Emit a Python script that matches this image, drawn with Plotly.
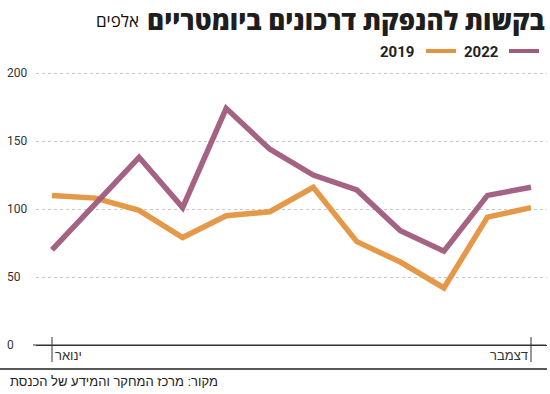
import plotly.graph_objects as go

months = ["ינואר", "פברואר", "מרץ", "אפריל", "מאי", "יוני", "יולי", "אוגוסט", "ספטמבר", "אוקטובר", "נובמבר", "דצמבר"]
series_2019 = [110, 108, 99, 79, 95, 98, 116, 76, 61, 42, 94, 101]
series_2022 = [70, 104, 138, 101, 174, 144, 125, 114, 84, 69, 110, 116]
y_ticks = [0, 50, 100, 150, 200]
edge_labels = ["ינואר", "דצמבר"]

title_bold = "בקשות להנפקת דרכונים ביומטריים"
title_unit = "אלפים"
source = "מקור: מרכז המחקר והמידע של הכנסת"

C2019 = "#e4943f"
C2022 = "#a05b7d"
NUM_FONT = "Roboto, sans-serif"
HEB_FONT = "Liberation Sans, Arial, sans-serif"
TITLE_FONT = "Open Sans, Liberation Sans, sans-serif"

W, H = 550, 394
L, R, T, B = 36, 3, 60, 26
pw = W - L - R
ph = H - T - B

def px_x(p):
    return (p - L) / pw

def px_y(p):
    return 1 - (p - T) / ph

xidx = list(range(len(months)))

fig = go.Figure()
fig.add_trace(go.Scatter(x=xidx, y=series_2019, mode="lines", name="2019",
                         line=dict(color=C2019, width=5.5), opacity=0.95))
fig.add_trace(go.Scatter(x=xidx, y=series_2022, mode="lines", name="2022",
                         line=dict(color=C2022, width=5.5), opacity=0.95))

# y scale: 0 at 345px, 200 at 73px
ppu = (345 - 73) / 200
y_top = 200 + (73 - T) / ppu
y_bot = 0 - (H - B - 345) / ppu
# x scale: Jan at 52px, Dec at 531px
ppx = (531 - 52) / 11
x_lo = -(52 - L) / ppx
x_hi = x_lo + pw / ppx

fig.update_layout(
    width=W, height=H,
    margin=dict(l=L, r=R, t=T, b=B),
    paper_bgcolor="white", plot_bgcolor="white",
    showlegend=False,
    xaxis=dict(range=[x_lo, x_hi], showgrid=False, zeroline=False,
               showticklabels=False, ticks="", showline=False),
    yaxis=dict(range=[y_bot, y_top], tickvals=y_ticks, showticklabels=False,
               showgrid=True, gridcolor="#c8c8c8", griddash="dot", gridwidth=1,
               zeroline=True, zerolinecolor="#333333", zerolinewidth=1,
               showline=False, ticks=""),
)

annotations = []
for v in y_ticks:
    annotations.append(dict(x=px_x(5), xref="paper", y=v, yref="y", text=str(v),
                            showarrow=False, xanchor="left", yanchor="middle",
                            font=dict(family=NUM_FONT, size=12, color="#333333")))

# edge month labels
annotations.append(dict(x=0, xref="x", y=-7.5, yref="y", text=edge_labels[0],
                        showarrow=False, xanchor="left", yanchor="middle", xshift=1,
                        font=dict(family=HEB_FONT, size=13, color="#333333")))
annotations.append(dict(x=11, xref="x", y=-7.5, yref="y", text=edge_labels[1],
                        showarrow=False, xanchor="right", yanchor="middle", xshift=-1,
                        font=dict(family=HEB_FONT, size=13, color="#333333")))

# title (bold part + unit)
annotations.append(dict(x=px_x(547), xref="paper", y=px_y(20), yref="paper",
                        text=title_bold, showarrow=False, xanchor="right", yanchor="middle",
                        font=dict(family=TITLE_FONT, size=26, color="#1e1e1e", weight=800)))
annotations.append(dict(x=px_x(141), xref="paper", y=px_y(21), yref="paper",
                        text=title_unit, showarrow=False, xanchor="right", yanchor="middle",
                        font=dict(family=TITLE_FONT, size=17, color="#111111")))

# legend
for label, color, tx in [("2019", C2019, 416), ("2022", C2022, 501)]:
    annotations.append(dict(x=px_x(tx), xref="paper", y=px_y(52), yref="paper",
                            text="<b>" + label + "</b>", showarrow=False,
                            xanchor="right", yanchor="middle",
                            font=dict(family=NUM_FONT, size=15, color="#222222")))

# source
annotations.append(dict(x=px_x(8), xref="paper", y=px_y(381), yref="paper",
                        text=source, showarrow=False, xanchor="left", yanchor="middle",
                        font=dict(family=HEB_FONT, size=13, color="#222222")))

shapes = []
for color, lx0, lx1 in [(C2019, 426, 456), (C2022, 509, 539)]:
    shapes.append(dict(type="line", xref="paper", yref="paper",
                       x0=px_x(lx0), x1=px_x(lx1), y0=px_y(51), y1=px_y(51),
                       line=dict(color=color, width=4)))
# edge ticks
for xv in [0, 11]:
    shapes.append(dict(type="line", xref="x", yref="y", x0=xv, x1=xv,
                       y0=-(362 - 345) / ppu, y1=(345 - 337) / ppu,
                       line=dict(color="#333333", width=1)))
# baseline extension to left
shapes.append(dict(type="line", xref="paper", yref="y", x0=px_x(33), x1=px_x(546),
                   y0=0, y1=0, line=dict(color="#333333", width=1)))
# bottom separator
shapes.append(dict(type="line", xref="paper", yref="paper", x0=px_x(0), x1=px_x(547),
                   y0=px_y(369), y1=px_y(369), line=dict(color="#222222", width=1.5)))

fig.update_layout(annotations=annotations, shapes=shapes)
fig.write_html("out.html", config={"displayModeBar": False},
               post_script="document.body.style.margin='0';document.body.style.overflow='hidden';")
